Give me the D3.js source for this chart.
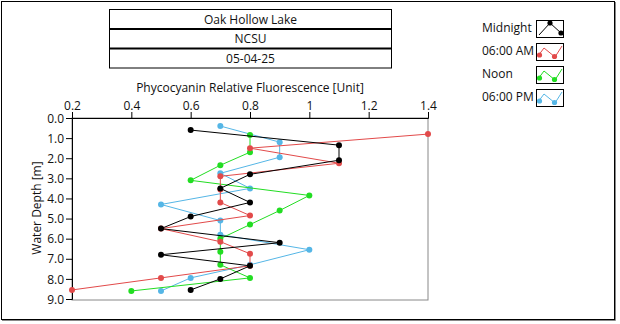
<!DOCTYPE html>
<html><head><meta charset="utf-8">
<script src="https://cdn.jsdelivr.net/npm/d3@7"></script>
<style>body{margin:0;background:#fff}svg{display:block}text{font-family:"Open Sans","Noto Sans",sans-serif;font-size:12px;fill:#111}</style>
</head><body><svg id="c" width="620" height="324"></svg>
<script>
const titleLines = ["Oak Hollow Lake", "NCSU", "05-04-25"];
const xTitle = "Phycocyanin Relative Fluorescence [Unit]";
const yTitle = "Water Depth [m]";
const xTicks = [0.2, 0.4, 0.6, 0.8, 1.0, 1.2, 1.4];
const xTickLabels = ["0.2", "0.4", "0.6", "0.8", "1", "1.2", "1.4"];
const yTicks = [0, 1, 2, 3, 4, 5, 6, 7, 8, 9];
const yTickLabels = ["0.0", "1.0", "2.0", "3.0", "4.0", "5.0", "6.0", "7.0", "8.0", "9.0"];
const seriesNames = ["Midnight", "06:00 AM", "Noon", "06:00 PM"];
const seriesColors = ["#000000", "#e24a4a", "#22dd22", "#55b6e6"];
const depthMidnight = [0.6, 1.35, 2.1, 2.8, 3.5, 4.2, 4.9, 5.5, 6.2, 6.8, 7.35, 8.0, 8.55];
const valMidnight = [0.6, 1.1, 1.1, 0.8, 0.7, 0.8, 0.6, 0.5, 0.9, 0.5, 0.8, 0.7, 0.6];
const depth6AM = [0.8, 1.5, 2.25, 2.9, 3.55, 4.2, 4.85, 5.5, 6.15, 6.75, 7.35, 7.95, 8.55];
const val6AM = [1.4, 0.8, 1.1, 0.7, 0.7, 0.7, 0.8, 0.5, 0.7, 0.8, 0.8, 0.5, 0.2];
const depthNoon = [0.85, 1.7, 2.35, 3.1, 3.85, 4.6, 5.3, 6.0, 6.65, 7.3, 7.95, 8.6];
const valNoon = [0.8, 0.8, 0.7, 0.6, 1.0, 0.9, 0.8, 0.7, 0.7, 0.7, 0.8, 0.4];
const depth6PM = [0.4, 1.2, 1.95, 2.75, 3.5, 4.3, 5.1, 5.8, 6.55, 7.3, 7.95, 8.6];
const val6PM = [0.7, 0.9, 0.9, 0.7, 0.8, 0.5, 0.7, 0.7, 1.0, 0.8, 0.6, 0.5];

const series = [
  {name: seriesNames[0], color: seriesColors[0], d: depthMidnight, v: valMidnight},
  {name: seriesNames[1], color: seriesColors[1], d: depth6AM, v: val6AM},
  {name: seriesNames[2], color: seriesColors[2], d: depthNoon, v: valNoon},
  {name: seriesNames[3], color: seriesColors[3], d: depth6PM, v: val6PM}
];

const svg = d3.select("#c");
// outer frame
svg.append("rect").attr("x", 1.5).attr("y", 1.5).attr("width", 613).attr("height", 318)
  .attr("fill", "none").attr("stroke", "#000");
svg.append("path").attr("d", "M615.5,2V320.5H2").attr("fill", "none").attr("stroke", "#888");

// title box
const tb = {x: 109.5, y: 9.5, w: 282, h: 19.5};
const tg = svg.append("g");
titleLines.forEach((t, i) => {
  tg.append("rect").attr("x", tb.x).attr("y", tb.y + i * tb.h).attr("width", tb.w).attr("height", tb.h)
    .attr("fill", "#fff").attr("stroke", "#000").attr("stroke-width", i === 0 ? 1 : 1);
  tg.append("text").attr("x", tb.x + tb.w / 2).attr("y", tb.y + i * tb.h + 14)
    .attr("text-anchor", "middle").text(t);
});
[1, 2].forEach(i => tg.append("line").attr("x1", tb.x).attr("x2", tb.x + tb.w)
  .attr("y1", tb.y + i * tb.h).attr("y2", tb.y + i * tb.h).attr("stroke", "#000").attr("stroke-width", 2));

const x = d3.scaleLinear().domain([0.2, 1.4]).range([72, 428]);
const y = d3.scaleLinear().domain([0, 9]).range([118, 299]);

// plot frame
svg.append("rect").attr("x", 72).attr("y", 118).attr("width", 356).attr("height", 182)
  .attr("fill", "#fff").attr("stroke", "#888");

const xAxis = svg.append("g").attr("transform", "translate(0,118)")
  .call(d3.axisTop(x).tickValues(xTicks).tickFormat((d, i) => xTickLabels[i]).tickSize(6).tickPadding(2));
const yAxis = svg.append("g").attr("transform", "translate(72,0)")
  .call(d3.axisLeft(y).tickValues(yTicks).tickFormat((d, i) => yTickLabels[i]).tickSize(6).tickPadding(2));
[xAxis, yAxis].forEach(a => {
  a.select(".domain").attr("stroke", "#000");
  a.selectAll(".tick line").attr("stroke", "#000");
  a.selectAll(".tick text").attr("font-size", 12).attr("fill", "#111")
    .attr("font-family", '"Open Sans","Noto Sans",sans-serif');
});
yAxis.selectAll(".tick text").attr("dy", "0.35em");

svg.append("text").attr("x", 250).attr("y", 92).attr("text-anchor", "middle").text(xTitle);
svg.append("text").attr("transform", "translate(41,208) rotate(-90)").attr("text-anchor", "middle").text(yTitle);

// series (draw reverse so Midnight on top)
const line = d3.line().x(p => x(p[0])).y(p => y(p[1]));
series.slice().reverse().forEach(s => {
  const pts = s.v.map((v, i) => [v, s.d[i]]);
  const g = svg.append("g");
  g.append("path").attr("d", line(pts)).attr("fill", "none").attr("stroke", s.color).attr("stroke-width", 1);
  g.selectAll("circle").data(pts).join("circle")
    .attr("cx", p => x(p[0])).attr("cy", p => y(p[1])).attr("r", 3).attr("fill", s.color);
});

// legend
const lg = svg.append("g");
series.forEach((s, i) => {
  const by = 20 + i * 23;
  lg.append("text").attr("x", 482).attr("y", by + 12).text(s.name);
  lg.append("rect").attr("x", 536.5).attr("y", by + 0.5).attr("width", 27).attr("height", 17)
    .attr("fill", "#fff").attr("stroke", "#000");
  let pts;
  if (i === 0) pts = [[539, by + 15], [550, by + 3], [561, by + 13]];
  else pts = [[538, by + 13], [544, by + 5], [555, by + 14], [562, by + 3]];
  lg.append("path").attr("d", d3.line()(pts)).attr("fill", "none").attr("stroke", s.color);
  const dots = i === 0 ? [pts[1], pts[2]] : [[539.5, by + 12], [554.5, by + 13.5]];
  dots.forEach(p => lg.append("circle").attr("cx", p[0]).attr("cy", p[1]).attr("r", 2.6).attr("fill", s.color));
});
</script></body></html>
